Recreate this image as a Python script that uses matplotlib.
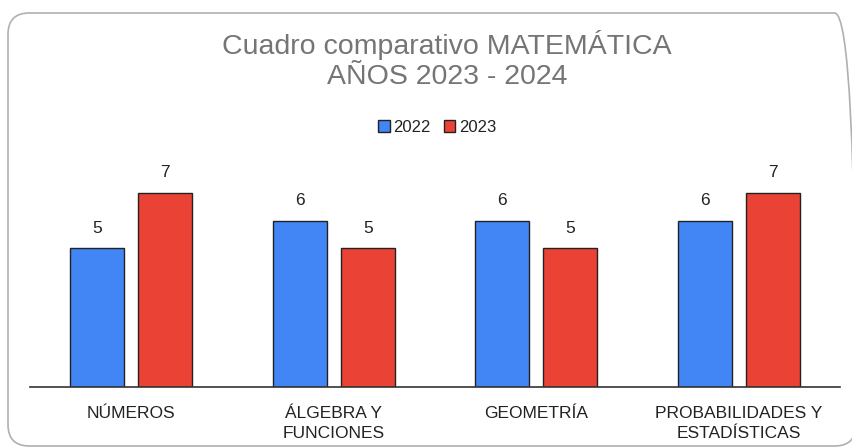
import matplotlib
matplotlib.use("Agg")
import matplotlib.pyplot as plt
import numpy as np
from matplotlib.patches import FancyBboxPatch

categories = ["NÚMEROS", "ÁLGEBRA Y\nFUNCIONES", "GEOMETRÍA", "PROBABILIDADES Y\nESTADÍSTICAS"]
series_names = ["2022", "2023"]
values_2022 = [5, 6, 6, 6]
values_2023 = [7, 5, 5, 7]
colors = ["#4285f4", "#ea4335"]
title = "Cuadro comparativo MATEMÁTICA\nAÑOS 2023 - 2024"

plt.rcParams['font.family'] = ['Liberation Sans', 'DejaVu Sans']

W, H = 853, 447
fig = plt.figure(figsize=(W/100, H/100), dpi=100)

# rounded frame
frame = FancyBboxPatch((8/W, 1/H), (856-8)/W, (H-13-1)/H,
                       boxstyle="round,pad=0,rounding_size=0.025",
                       transform=fig.transFigure, fill=False,
                       edgecolor="#b0b0b0", linewidth=1.2, mutation_aspect=W/H)
fig.patches.append(frame)

ax = fig.add_axes([30/W, (H-387)/H, (840-30)/W, (387-165)/H])
x = np.arange(len(categories))
bw = 0.267
off = 0.168
b1 = ax.bar(x - off, values_2022, bw, color=colors[0], edgecolor="#222222", linewidth=1, label=series_names[0])
b2 = ax.bar(x + off, values_2023, bw, color=colors[1], edgecolor="#222222", linewidth=1, label=series_names[1])
for bars in (b1, b2):
    ax.bar_label(bars, padding=9, fontsize=12.5, color="#222222")

ax.set_xlim(-0.5, len(categories) - 0.5)
ax.set_ylim(0, 8)
ax.set_xticks(x)
ax.set_xticklabels(categories, fontsize=12.5, color="#222222", linespacing=1.35)
ax.tick_params(axis='x', length=0, pad=14)
ax.set_yticks([])
for s in ["top", "right", "left"]:
    ax.spines[s].set_visible(False)
ax.spines["bottom"].set_color("#333333")
ax.spines["bottom"].set_linewidth(1.2)

fig.text(447/W, 1 - 60/H, title, ha="center", va="center", fontsize=20.5, color="#757575", linespacing=1.15)

leg = fig.legend(handles=[b1, b2], labels=series_names, loc="center", bbox_to_anchor=(437/W, 1 - 127/H),
                 ncol=2, frameon=False, fontsize=12, handlelength=0.7, handleheight=0.7,
                 handletextpad=0.2, columnspacing=0.8)
for t in leg.get_texts():
    t.set_color("#222222")

fig.savefig("out.png", dpi=100)
